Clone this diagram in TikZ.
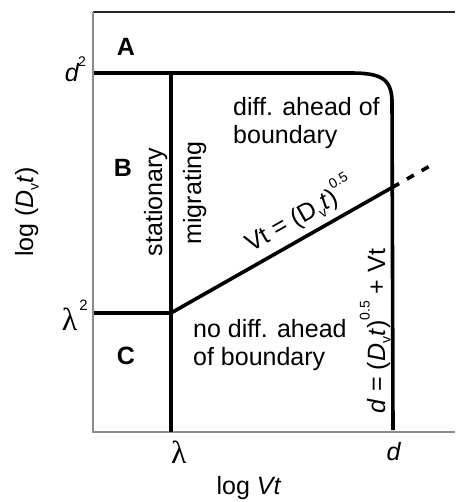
\documentclass[tikz,border=0pt]{standalone}
\usepackage{fontspec}
\setmainfont{Liberation Sans}
\newfontfamily\lamfont{Liberation Serif}
\newcommand\subv{\raisebox{-0.22em}{\fontsize{14}{14}\selectfont v}}
\newcommand\supx[1]{\raisebox{0.62em}{\fontsize{14}{14}\selectfont #1}}
\begin{document}
\begin{tikzpicture}[x=1pt,y=-1pt,
  bound/.style={line width=3.6pt, black},
  framel/.style={line width=1.3pt, black!45},
  framet/.style={line width=1.3pt, black!85},
  lab/.style={font=\fontsize{25}{28}\selectfont, inner sep=0pt},
  region/.style={font=\fontsize{25}{25}\selectfont\bfseries, inner sep=0pt},
  lam/.style={font=\fontsize{32}{32}\lamfont, inner sep=0pt}]
\useasboundingbox (0,0) rectangle (455,502);
% frame
\coordinate (tl) at (93,12);
\coordinate (tr) at (455,12);
\coordinate (bl) at (93,432);
\coordinate (br) at (455,432);
\draw[framet] (tl) -- (tr);
\draw[framel] (tl) -- (bl) -- (br);
% boundary coordinates
\coordinate (hstart) at (94,73);
\coordinate (hcurve) at (350,73);
\coordinate (rtop) at (392,100);
\coordinate (rbot) at (393,430);
\coordinate (ltop) at (171,73);
\coordinate (lbot) at (171,432);
\coordinate (l2left) at (94,313);
\coordinate (l2) at (171,313);
\coordinate (cross) at (393,187);
\coordinate (dashend) at (428.6,166.7);
% boundaries
\draw[bound] (hstart) -- (hcurve) .. controls (380,73) and (391,78) .. (rtop) -- (rbot);
\draw[bound] (ltop) -- (lbot);
\draw[bound] (l2left) -- (l2);
\draw[bound] (l2) -- (cross);
\draw[bound, dash pattern=on 7pt off 9pt on 8pt off 9pt on 8pt off 100pt] (cross) -- (dashend);
% region letters
\node[region] (A) at (126,47) {A};
\node[region] (B) at (123,168) {B};
\node[region] (C) at (126,356) {C};
% axis tick labels
\node[lab, anchor=base east] (d2) at (86,82) {\textit{d}\kern-1.5pt\supx{2}};
\node[lam, anchor=base east] (lam2) at (88,330) {λ\kern2pt\supx{\normalfont\fontsize{15}{15}\selectfont 2}};
\node[lam, anchor=base] (lamx) at (179,463) {λ};
\node[lab, anchor=base] (dx) at (394,460) {\textit{d}};
% axis titles
\node[lab, anchor=base] (xlab) at (249,494) {log \textit{Vt}};
\node[lab, anchor=base, rotate=90] (ylab) at (33,212) {log (\textit{D}\subv\textit{t})};
% region texts
\node[lab, anchor=base, rotate=90] (stat) at (162,202) {stationary};
\node[lab, anchor=base, rotate=90] (migr) at (201,193) {migrating};
\node[lab, anchor=north west, align=left] (ahead) at (233,96.7) {diff. ahead of\\boundary};
\node[lab, anchor=north west, align=left] (noahead) at (193,318.7) {no diff. ahead\\of boundary};
\node[lab, anchor=base, rotate=29.6] (diag) at (304,223) {Vt = (D\subv\textit{t})\supx{0.5}};
\node[lab, anchor=base, rotate=90] (rlab) at (385,331) {\textit{d} = (\textit{D}\subv\textit{t})\supx{0.5} + Vt};
\end{tikzpicture}
\end{document}
